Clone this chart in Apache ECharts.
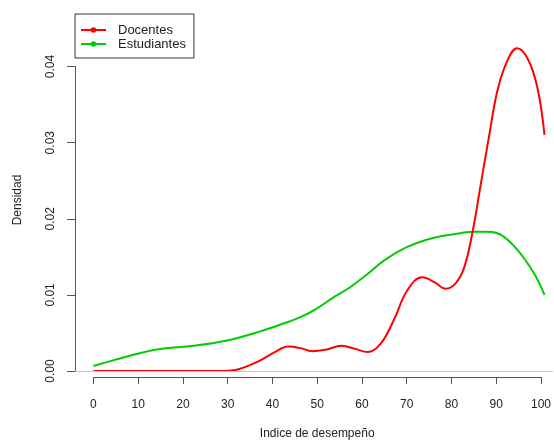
<!DOCTYPE html>
<html>
<head>
<meta charset="utf-8">
<script src="https://cdn.jsdelivr.net/npm/echarts@6/dist/echarts.min.js"></script>
<style>
  html, body { margin: 0; padding: 0; background: #fff; }
  #chart { width: 554px; height: 441px; }
</style>
</head>
<body>
<div id="chart"></div>
<script>
// Docentes density curve (x = indice, y = densidad)
const docX = [0, 10, 20, 28, 30, 32, 34, 37, 40, 43.2, 45.9, 48.5, 51.5, 55, 58, 60.8, 63.7, 66.6, 69.6, 72.9, 75.5, 78.1, 80.3, 82.2, 84, 85.9, 87.7, 89.6, 91.8, 93.9, 96.2, 98.4, 100];
const docY = [0, 0, 0, 0, 0.00003, 0.0002, 0.0006, 0.0014, 0.0024, 0.0032, 0.003, 0.0026, 0.0028, 0.0033, 0.0029, 0.0025, 0.0036, 0.0067, 0.0106, 0.0123, 0.0117, 0.0108, 0.0115, 0.0136, 0.0181, 0.0246, 0.0308, 0.0369, 0.0408, 0.0424, 0.0411, 0.0373, 0.031];

// Estudiantes density curve
const estX = [0, 5, 10, 14.8, 22.2, 29.6, 37, 42, 46, 49.5, 53.3, 56.9, 60.7, 64.4, 69.6, 75.5, 81.4, 84, 87.3, 90.3, 94, 97.7, 100];
const estY = [0.00066, 0.0015, 0.0023, 0.0029, 0.0033, 0.004, 0.0052, 0.0062, 0.0071, 0.0082, 0.0097, 0.011, 0.0127, 0.0145, 0.0163, 0.0175, 0.0181, 0.0183, 0.0183, 0.0179, 0.0159, 0.0128, 0.01];

const xTicks = [0, 10, 20, 30, 40, 50, 60, 70, 80, 90, 100];
const yTicks = [0, 0.01, 0.02, 0.03, 0.04];

const FONT = '"Liberation Sans", Arial, sans-serif';
const AXIS_COLOR = '#555';
const TEXT_COLOR = '#222';

const zip = (xs, ys) => xs.map((x, i) => [x, ys[i]]);

const chart = echarts.init(document.getElementById('chart'));

const option = {
  animation: false,
  backgroundColor: '#fff',
  textStyle: { fontFamily: FONT },
  legend: {
    data: ['Docentes', 'Estudiantes'],
    orient: 'vertical',
    left: 75,
    top: 14,
    padding: [9, 8, 7, 5],
    itemGap: 0,
    itemWidth: 25,
    itemHeight: 7,
    borderColor: '#333',
    borderWidth: 1,
    borderRadius: 0,
    textStyle: { fontSize: 13, color: TEXT_COLOR, fontFamily: FONT, padding: [0, 0, 0, 7], lineHeight: 14 }
  },
  graphic: [{
    type: 'text',
    x: 17.5,
    y: 200,
    rotation: Math.PI / 2,
    style: {
      text: 'Densidad',
      fontSize: 12,
      fontFamily: FONT,
      fill: TEXT_COLOR,
      align: 'center',
      verticalAlign: 'middle'
    }
  }],
  grid: [
    // data area
    { left: 75.4, width: 478.1, top: 36, height: 350.2 },
    // y axis only
    { left: 75, width: 470, top: 66.6, height: 304.4 },
    // x axis only
    { left: 93.4, width: 450.9, top: 300, height: 85.7 }
  ],
  xAxis: [
    { gridIndex: 0, type: 'value', min: -4, max: 102, show: false },
    { gridIndex: 1, type: 'value', min: 0, max: 100, show: false },
    {
      gridIndex: 2, type: 'value', min: 0, max: 100, interval: 10,
      axisLine: { show: true, lineStyle: { color: AXIS_COLOR, width: 1 } },
      axisTick: { show: true, length: 7, lineStyle: { color: AXIS_COLOR } },
      axisLabel: {
        margin: 22, fontSize: 12, color: TEXT_COLOR, fontFamily: FONT,
        formatter: v => xTicks.includes(v) ? String(v) : ''
      },
      splitLine: { show: false },
      name: 'Indice de desempeño',
      nameLocation: 'middle',
      nameGap: 51,
      nameTextStyle: { fontSize: 12, color: TEXT_COLOR, fontFamily: FONT }
    }
  ],
  yAxis: [
    { gridIndex: 0, type: 'value', min: -0.002, max: 0.044, show: false },
    {
      gridIndex: 1, type: 'value', min: 0, max: 0.04, interval: 0.01,
      axisLine: { show: true, lineStyle: { color: AXIS_COLOR, width: 1 } },
      axisTick: { show: true, length: 8, lineStyle: { color: AXIS_COLOR } },
      axisLabel: {
        rotate: 90, margin: 18, fontSize: 12, color: TEXT_COLOR, fontFamily: FONT,
        formatter: v => yTicks.some(t => Math.abs(t - v) < 1e-9) ? v.toFixed(2) : ''
      },
      splitLine: { show: false }
    },
    { gridIndex: 2, type: 'value', show: false }
  ],
  series: [
    {
      name: 'Estudiantes',
      type: 'line',
      xAxisIndex: 0,
      yAxisIndex: 0,
      data: zip(estX, estY),
      smooth: 0.4,
      symbol: 'circle',
      symbolSize: 6,
      showSymbol: false,
      clip: false,
      color: '#00CD00',
      lineStyle: { color: '#00CD00', width: 2 }
    },
    {
      name: 'Docentes',
      type: 'line',
      xAxisIndex: 0,
      yAxisIndex: 0,
      data: zip(docX, docY),
      smooth: 0.4,
      symbol: 'circle',
      symbolSize: 6,
      showSymbol: false,
      clip: false,
      color: '#FF0000',
      lineStyle: { color: '#FF0000', width: 2 },
      markLine: {
        silent: true,
        symbol: 'none',
        label: { show: false },
        lineStyle: { color: '#c8c8c8', type: 'solid', width: 1 },
        data: [{ yAxis: 0 }]
      }
    }
  ]
};

chart.setOption(option);
</script>
</body>
</html>
